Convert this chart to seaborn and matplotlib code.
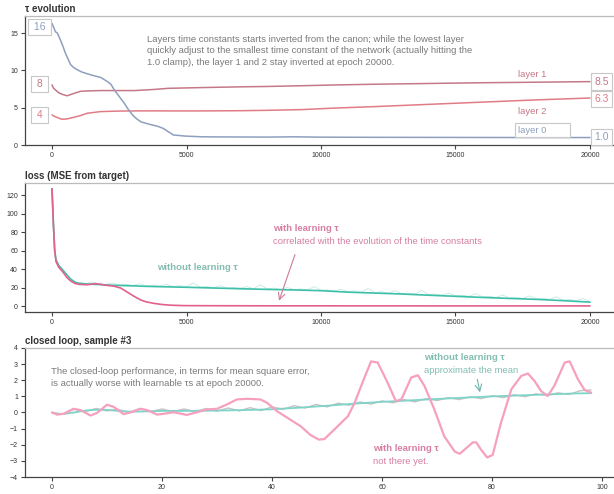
import numpy as np
import pandas as pd
import seaborn as sns
import matplotlib
matplotlib.use("Agg")
import matplotlib.pyplot as plt

# ---------------- data ----------------
# panel 1: tau evolution
tau_epoch0 = [0, 60, 125, 200, 312, 400, 500, 600, 687, 800, 937, 1100, 1312, 1550, 1812, 2062, 2200, 2312, 2500, 2687, 2850,
              3000, 3150, 3312, 3600, 3937, 4150, 4312, 4450, 4500, 4937, 5562, 6500, 8000, 9000, 10000, 12000, 14000, 16000, 18000, 20000]
tau_layer0 = [16.3, 15.8, 15.2, 15.0, 14.1, 13.3, 12.3, 11.5, 10.8, 10.4, 10.1, 9.8, 9.55, 9.3, 9.06, 8.5, 8.1, 7.4, 6.5, 5.6, 4.7,
              4.0, 3.5, 3.1, 2.8, 2.5, 2.2, 1.8, 1.5, 1.35, 1.2, 1.1, 1.08, 1.06, 1.1, 1.05, 1.03, 1.02, 1.01, 1.0, 1.0]
tau_epoch12 = [0, 60, 125, 250, 375, 562, 800, 1062, 1312, 1812, 2500, 3062, 3800, 4312, 5562, 7000, 8000, 9312, 10500,
               12000, 14000, 16000, 18000, 20000]
tau_layer1 = [8.07, 7.6, 7.4, 7.0, 6.8, 6.6, 6.9, 7.2, 7.25, 7.3, 7.3, 7.3, 7.45, 7.6, 7.7, 7.8, 7.85, 7.95, 8.05,
              8.15, 8.25, 8.35, 8.42, 8.5]
tau_layer2 = [4.04, 3.9, 3.8, 3.6, 3.45, 3.5, 3.7, 3.95, 4.26, 4.48, 4.55, 4.57, 4.58, 4.57, 4.57, 4.6, 4.65, 4.75, 4.95,
              5.15, 5.45, 5.75, 6.05, 6.3]
tau_start_labels = ["16", "8", "4"]
tau_start_values = [15.8, 8.17, 4.02]
tau_end_labels = ["8.5", "6.3", "1.0"]
tau_end_values = [8.5, 6.2, 1.1]

# panel 2: loss
loss_epoch = [0, 50, 100, 150, 250, 400, 550, 700, 850, 1000, 1300, 1600, 1800, 2000, 2300, 2550, 2800, 3050, 3300, 3500,
              3800, 4100, 4400, 4800, 5000, 6000, 7000, 8000, 9000, 10000, 11000, 12000, 13000, 14000, 15000, 16000,
              17000, 18000, 19000, 20000]
loss_without = [127, 90, 60, 50, 44, 39, 34, 29, 26, 24.5, 23.8, 23.4, 23.2, 22.8, 22.4, 22.2, 22.0, 21.8, 21.5, 21.3,
                21.1, 20.9, 20.7, 20.4, 20.3, 19.5, 18.7, 18.0, 17.4, 16.6, 15.0, 14.0, 13.0, 11.7, 10.5, 9.3,
                8.2, 7.2, 5.8, 4.2]
loss_with = [127, 90, 60, 48, 42, 37, 31, 27, 24.5, 23.5, 23.0, 24.2, 23.5, 22.5, 21.5, 19.5, 15.0, 10.5, 6.5, 4.5,
             2.8, 1.6, 0.9, 0.5, 0.4, 0.3, 0.25, 0.2, 0.2, 0.2, 0.15, 0.15, 0.15, 0.1, 0.1, 0.1,
             0.1, 0.1, 0.1, 0.1]
raw_epoch = list(range(1000, 20001, 250))
raw_without = [25.5, 24.5, 26, 24,
               23.5, 25, 22.8, 23.5,
               22.3, 24, 22, 22.5,
               21.5, 23.5, 21.2, 22,
               21, 25, 20.5, 21,
               20, 22, 19.5, 20,
               19.3, 21, 18.8, 23,
               18.5, 19.5, 18, 20,
               17.8, 18.5, 17.5, 21,
               17, 17.5, 16.3, 18,
               15.5, 16.5, 15, 19,
               14.5, 15.5, 14, 16.5,
               13.5, 14, 13, 17,
               12.2, 13, 11.8, 14,
               11, 11.5, 10.5, 13.5,
               9.8, 10.5, 9.3, 12,
               8.7, 9.5, 8.2, 11,
               7.7, 8.5, 7.2, 10,
               6.3, 7, 5.8, 8,
               4.8]

# panel 3: closed loop
cl_x_target = list(range(0, 99, 2))
cl_target = [0.0, -0.1, 0.2, 0.05, 0.25, 0.1, 0.2, 0.0, 0.25, 0.05, 0.22, 0.05, 0.22, 0.05, 0.25, 0.08, 0.28, 0.1,
             0.3, 0.12, 0.35, 0.2, 0.42, 0.28, 0.5, 0.35, 0.58, 0.45, 0.65, 0.52, 0.72, 0.6, 0.8, 0.66, 0.86, 0.74,
             0.92, 0.8, 0.98, 0.86, 1.04, 0.92, 1.1, 0.98, 1.16, 1.05, 1.22, 1.12, 1.35, 1.4]
cl_x_without = [0, 1, 2, 4, 6, 8, 10, 12, 14, 16, 20, 25, 30, 35, 40, 45, 50, 55, 60, 65, 70, 75, 80, 85, 90, 95, 98]
cl_without = [0, -0.08, -0.1, 0.0, 0.12, 0.17, 0.16, 0.1, 0.05, 0.06, 0.1, 0.1, 0.12, 0.15, 0.2, 0.3, 0.42, 0.55,
              0.66, 0.75, 0.84, 0.92, 1.0, 1.06, 1.12, 1.18, 1.2]
cl_x_with = [0, 0.9, 2.1, 3.9, 5.2, 7, 8.2, 10, 11.2, 13, 14.2, 16.1, 17.3, 19.1, 20.3, 22.1, 24.5, 26.4, 28.2, 30,
             31.8, 33.6, 35.5, 37.9, 39.1, 40.9, 43.3, 45.2, 47, 48.5, 49.5, 51.3, 53.8, 55, 56.8, 58, 59.2, 61,
             62.5, 63.5, 65.3, 66.5, 67.7, 69.5, 71.3, 73.2, 74.1, 75.3, 76.5, 77.1, 78, 79.1, 80.1, 81.6, 83.5,
             85.3, 86.5, 87.7, 88.9, 90.1, 91.3, 93.2, 94.1, 95.6, 96.8, 98]
cl_with = [0, -0.13, -0.08, 0.23, 0.15, -0.19, -0.02, 0.48, 0.35, -0.1, 0.0, 0.23, 0.15, -0.13, -0.08, 0.02, -0.15,
           0.02, 0.19, 0.23, 0.5, 0.81, 0.85, 0.81, 0.6, 0.08, -0.44, -0.85, -1.4, -1.68, -1.65, -1.06, -0.23, 0.6,
           2.17, 3.17, 3.1, 1.85, 0.71, 0.81, 2.17, 2.31, 1.65, 0.19, -1.48, -2.42, -2.56, -2.21, -1.85, -1.85,
           -2.31, -2.79, -2.63, -0.65, 1.44, 2.27, 2.42, 1.96, 1.33, 1.02, 1.65, 3.1, 3.17, 2.06, 1.4, 1.23]

# ---------------- style ----------------
sns.set_theme(style="ticks")
plt.rcParams["font.family"] = ["Liberation Sans", "DejaVu Sans"]
FS = 6.8

C_L0 = "#8e9fbd"
C_L1 = "#c47888"
C_L2 = "#e07c86"
C_TEAL = "#3dbfa8"
C_TEAL_LIGHT = "#b3e8de"
C_TEAL_TXT = "#84bdb1"
C_PINK = "#e3608e"
C_PINK_TXT = "#d77ea2"
C_PINK_LINE3 = "#f6a0bf"
C_TEAL_LINE3 = "#7fd3c8"
C_GRAY_LINE3 = "#c4c4c4"
C_NOTE = "#7a7a7a"

fig = plt.figure(figsize=(6.14, 4.94), dpi=100)
W, H = 614, 494
def ax_at(top_px, bottom_px):
    return fig.add_axes([25 / W, 1 - bottom_px / H, 592 / W, (bottom_px - top_px) / H])

ax1 = ax_at(16, 145)
ax2 = ax_at(183, 312)
ax3 = ax_at(348, 477)

def style(ax, title):
    for s in ["left", "bottom"]:
        ax.spines[s].set_color("#444444")
        ax.spines[s].set_linewidth(0.9)
    ax.spines["top"].set_color("#bbbbbb")
    ax.spines["top"].set_linewidth(0.9)
    ax.spines["right"].set_visible(False)
    ax.tick_params(axis="both", length=3, width=0.8, color="#444444", labelsize=5, labelcolor="#333333", pad=2)
    ax.set_xlabel("")
    ax.set_ylabel("")
    ax.set_title(title, loc="left", fontsize=7, fontweight="bold", color="#333333", pad=3)
    ax.grid(False)

# ---------------- panel 1 ----------------
df0 = pd.DataFrame({"epoch": tau_epoch0, "tau": tau_layer0})
df12 = pd.DataFrame({"epoch": tau_epoch12, "l1": tau_layer1, "l2": tau_layer2})
sns.lineplot(data=df12, x="epoch", y="l1", ax=ax1, color=C_L1, lw=1.1)
sns.lineplot(data=df12, x="epoch", y="l2", ax=ax1, color=C_L2, lw=1.1)
sns.lineplot(data=df0, x="epoch", y="tau", ax=ax1, color=C_L0, lw=1.1)
ax1.set_xlim(-1004, 21004)
ax1.set_ylim(0, 17.3)
ax1.set_yticks([0, 5, 10, 15])
ax1.set_xticks([0, 5000, 10000, 15000, 20000])
style(ax1, "τ evolution")

box = dict(boxstyle="square,pad=0.3", fc="white", ec="#c8c8c8", lw=0.8)
for lab, val, c in zip(tau_start_labels, tau_start_values, [C_L0, C_L1, C_L2]):
    ax1.text(-465, val, " " + lab + " ", ha="center", va="center", fontsize=7.5, color=c, bbox=box)
for lab, val, c in zip(tau_end_labels, tau_end_values, [C_L1, C_L2, C_L0]):
    ax1.text(20149, val, lab, ha="left", va="center", fontsize=7.5, color=c, bbox=box)
ax1.text(17323, 9.47, "layer 1", ha="left", va="center", fontsize=FS, color=C_L1)
ax1.text(17323, 4.55, "layer 2", ha="left", va="center", fontsize=FS, color=C_L1)
ax1.text(17323, 2.0, "layer 0        ", ha="left", va="center", fontsize=FS, color=C_L0, bbox=box)
ax1.text(3532, 12.63,
         "Layers time constants starts inverted from the canon; while the lowest layer\n"
         "quickly adjust to the smallest time constant of the network (actually hitting the\n"
         "1.0 clamp), the layer 1 and 2 stay inverted at epoch 20000.",
         ha="left", va="center", fontsize=FS, color=C_NOTE, linespacing=1.4)

# ---------------- panel 2 ----------------
dfl = pd.DataFrame({"epoch": loss_epoch, "without": loss_without, "with": loss_with})
dfr = pd.DataFrame({"epoch": raw_epoch, "raw": raw_without})
sns.lineplot(data=dfr, x="epoch", y="raw", ax=ax2, color=C_TEAL_LIGHT, lw=0.5)
sns.lineplot(data=dfl, x="epoch", y="without", ax=ax2, color=C_TEAL, lw=1.2)
sns.lineplot(data=dfl, x="epoch", y="with", ax=ax2, color=C_PINK, lw=1.2)
ax2.set_xlim(-1004, 21004)
ax2.set_ylim(-6.5, 133.3)
ax2.set_yticks([0, 20, 40, 60, 80, 100, 120])
ax2.set_xticks([0, 5000, 10000, 15000, 20000])
style(ax2, "loss (MSE from target)")
ax2.text(3903, 41.2, "without learning τ", ha="left", va="center", fontsize=FS, fontweight="bold",
         color=C_TEAL_TXT)
ax2.text(8216, 83.5, "with learning τ", ha="left", va="center", fontsize=FS, fontweight="bold",
         color=C_PINK_TXT)
ax2.text(8216, 69.4, "correlated with the evolution of the time constants", ha="left", va="center",
         fontsize=FS, color=C_PINK_TXT)
ax2.annotate("", xy=(8439, 5.7), xytext=(9033, 55.7),
             arrowprops=dict(arrowstyle="->", color="#d07a98", lw=0.8, shrinkA=0, shrinkB=0))

# ---------------- panel 3 ----------------
dft = pd.DataFrame({"x": cl_x_target, "y": cl_target})
dfw = pd.DataFrame({"x": cl_x_without, "y": cl_without})
dfp = pd.DataFrame({"x": cl_x_with, "y": cl_with})
sns.lineplot(data=dft, x="x", y="y", ax=ax3, color=C_GRAY_LINE3, lw=1.0)
sns.lineplot(data=dfw, x="x", y="y", ax=ax3, color=C_TEAL_LINE3, lw=1.3)
sns.lineplot(data=dfp, x="x", y="y", ax=ax3, color=C_PINK_LINE3, lw=1.6)
ax3.set_xlim(-4.91, 102.7)
ax3.set_ylim(-4, 4)
ax3.set_yticks([-4, -3, -2, -1, 0, 1, 2, 3, 4])
ax3.set_xticks([0, 20, 40, 60, 80, 100])
style(ax3, "closed loop, sample #3")
ax3.text(-0.2, 2.19,
         "The closed-loop performance, in terms for mean square error,\n"
         "is actually worse with learnable τs at epoch 20000.",
         ha="left", va="center", fontsize=FS, color=C_NOTE, linespacing=1.4)
ax3.text(67.6, 3.44, "without learning τ", ha="left", va="center", fontsize=FS, fontweight="bold",
         color=C_TEAL_TXT)
ax3.text(67.6, 2.63, "approximate the mean", ha="left", va="center", fontsize=FS, color=C_TEAL_TXT)
ax3.annotate("", xy=(77.8, 1.25), xytext=(77.3, 2.06),
             arrowprops=dict(arrowstyle="->", color="#6fb5aa", lw=0.8, shrinkA=0, shrinkB=0))
ax3.text(58.4, -2.25, "with learning τ", ha="left", va="center", fontsize=FS, fontweight="bold",
         color=C_PINK_TXT)
ax3.text(58.4, -3.06, "not there yet.", ha="left", va="center", fontsize=FS, color=C_PINK_TXT)

fig.savefig("out.png", dpi=100)
